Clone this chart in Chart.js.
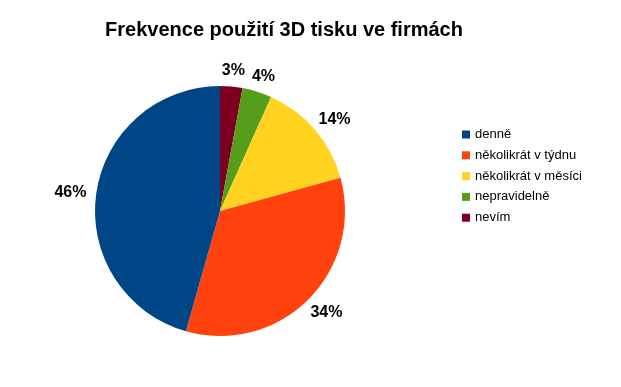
<!DOCTYPE html>
<html>
<head>
<meta charset="utf-8">
<script src="https://cdn.jsdelivr.net/npm/chart.js"></script>
<style>
html,body{margin:0;padding:0;background:#fff;}
#wrap{position:relative;width:621px;height:387px;}
</style>
</head>
<body>
<div id="wrap"><canvas id="c" width="621" height="387"></canvas></div>
<script>
const chartTitle = 'Frekvence použití 3D tisku ve firmách';
const categories = ['denně', 'několikrát v týdnu', 'několikrát v měsíci', 'nepravidelně', 'nevím'];
const values = [45.6, 33.7, 14.0, 3.8, 2.9];
const colors = ['#004586', '#ff420e', '#ffd320', '#579d1c', '#7e0021'];

// pie is drawn counter-clockwise from 12 o'clock in the reference,
// so feed Chart.js (clockwise) the reversed order
const revCats = categories.slice().reverse();
const revVals = values.slice().reverse();
const revCols = colors.slice().reverse();
const total = values.reduce((a, b) => a + b, 0);

const FONT = '"Liberation Sans", Arial, sans-serif';

const decor = {
  id: 'decor',
  afterDraw(chart) {
    const ctx = chart.ctx;
    ctx.save();
    // title
    ctx.fillStyle = '#000';
    ctx.font = 'bold 20px ' + FONT;
    ctx.textAlign = 'center';
    ctx.textBaseline = 'middle';
    ctx.fillText(chartTitle, 284, 30);

    // percentage labels
    const meta = chart.getDatasetMeta(0);
    ctx.font = 'bold 16px ' + FONT;
    meta.data.forEach((arc, i) => {
      const p = arc.getProps(['x', 'y', 'startAngle', 'endAngle', 'outerRadius'], true);
      const mid = (p.startAngle + p.endAngle) / 2;
      const ux = Math.cos(mid), uy = Math.sin(mid);
      const txt = Math.round(revVals[i] / total * 100) + '%';
      const w = ctx.measureText(txt).width;
      const h = 14;
      const r = p.outerRadius + 10;
      const cx = p.x + ux * r + ux * w / 2;
      const cy = p.y + uy * r + uy * h / 2 + 1;
      ctx.fillText(txt, cx, cy);
    });

    // legend
    ctx.font = '13px ' + FONT;
    ctx.textAlign = 'left';
    categories.forEach((c, i) => {
      const y = 134.5 + i * 20.8;
      ctx.fillStyle = colors[i];
      ctx.fillRect(462, y - 4, 8, 8);
      ctx.fillStyle = '#000';
      ctx.fillText(c, 475, y);
    });
    ctx.restore();
  }
};

new Chart(document.getElementById('c'), {
  type: 'pie',
  data: {
    labels: revCats,
    datasets: [{
      data: revVals,
      backgroundColor: revCols,
      borderWidth: 0
    }]
  },
  options: {
    responsive: false,
    animation: false,
    rotation: 0,
    layout: { padding: { left: 95, right: 276, top: 86, bottom: 51 } },
    plugins: {
      legend: { display: false },
      title: { display: false },
      tooltip: { enabled: false }
    }
  },
  plugins: [decor]
});
</script>
</body>
</html>
